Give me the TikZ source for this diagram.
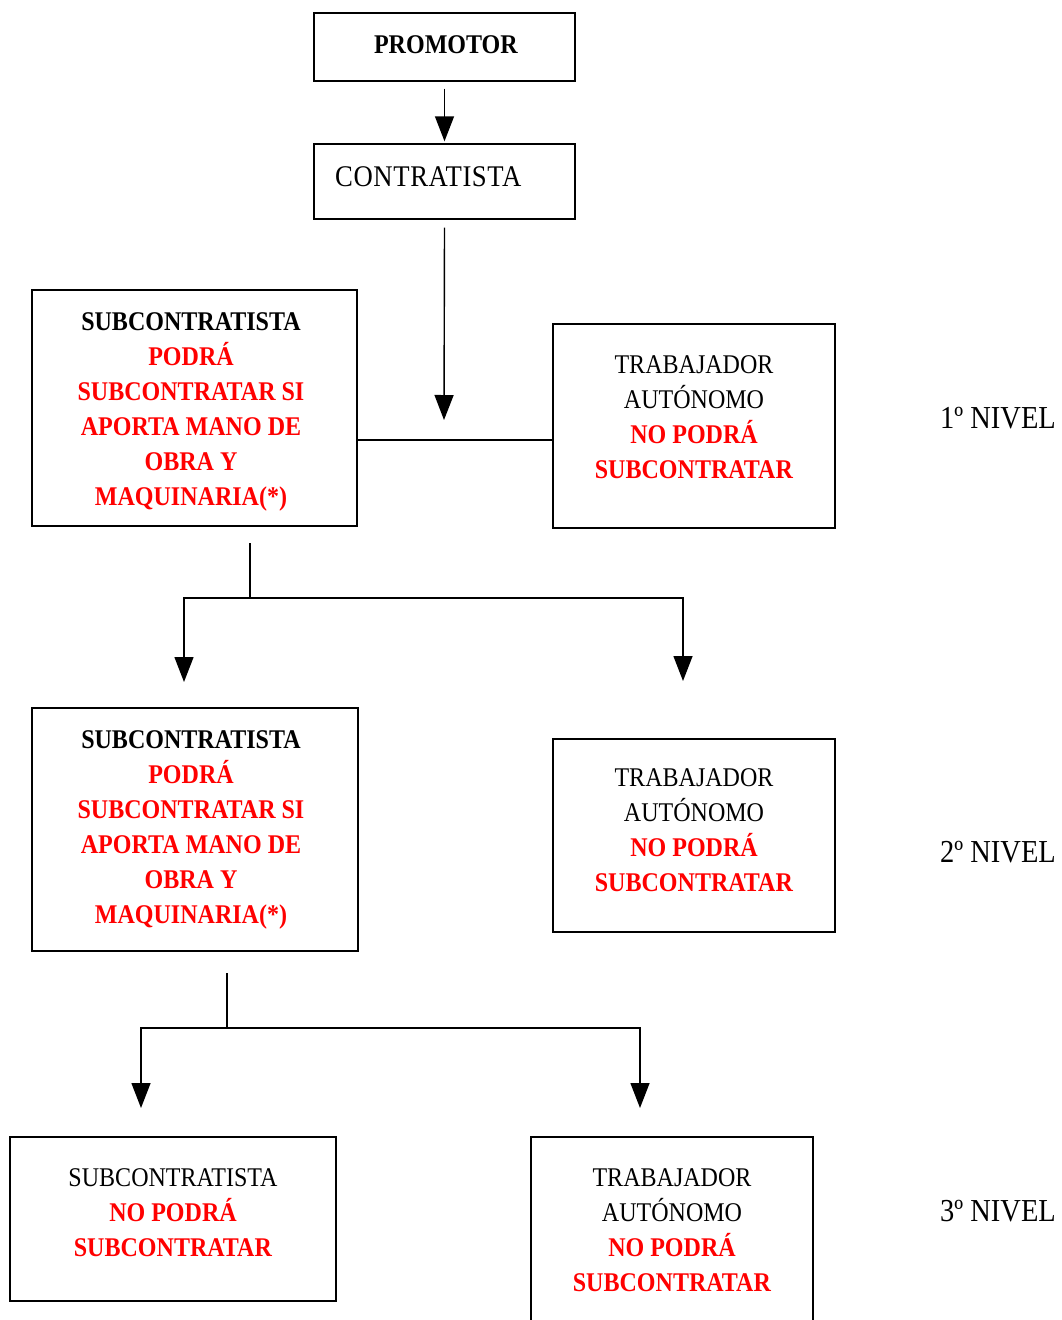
\documentclass[tikz,border=0pt]{standalone}
\usepackage{fontspec}
\setmainfont{Liberation Serif}[FakeStretch=0.89]
\newfontfamily\cfont{Liberation Serif}[FakeStretch=0.89,LetterSpace=2]
\usetikzlibrary{arrows.meta}
\newcommand{\rd}[1]{\textcolor{red}{\textbf{#1}}}
\newcommand{\lines}[1]{\setlength{\tabcolsep}{0pt}\renewcommand{\arraystretch}{1}\begin{tabular}[t]{c}#1\end{tabular}}
\tikzset{
  box/.style={draw, line width=1.4pt, inner sep=0pt},
  txt/.style={anchor=base, inner sep=0pt, font=\fontsize{27}{35}\selectfont},
  lvl/.style={anchor=base west, inner sep=0pt, font=\fontsize{32}{38}\selectfont},
  arr/.style={line width=1.4pt, -{Triangle[width=19pt,length=25pt]}},
  ln/.style={line width=1.4pt}
}
\begin{document}
\begin{tikzpicture}[x=1pt,y=-1pt]
\useasboundingbox (0,0) rectangle (1061,1320);
\clip (0,0) rectangle (1061,1320);
% boxes
\node[box, minimum width=261, minimum height=68] (promotor) at (444.5,47) {};
\node[box, minimum width=261, minimum height=75] (contratista) at (444.5,181.5) {};
\node[box, minimum width=325, minimum height=236] (sub1) at (194.5,408) {};
\node[box, minimum width=282, minimum height=204] (trab1) at (694,426) {};
\node[box, minimum width=326, minimum height=243] (sub2) at (195,829.5) {};
\node[box, minimum width=282, minimum height=193] (trab2) at (694,835.5) {};
\node[box, minimum width=326, minimum height=164] (sub3) at (173,1219) {};
\node[box, minimum width=282, minimum height=203] (trab3) at (672,1238.5) {};
% texts
\node[txt] (tpromotor) at (446,53) {\textbf{PROMOTOR}};
\node[anchor=base west, inner sep=0pt, font=\cfont\fontsize{30}{36}\selectfont] (tcontratista) at (335,186) {CONTRATISTA};
\node[txt] (tsub1) at (191,330) {\lines{\textbf{SUBCONTRATISTA}\\ \rd{PODRÁ}\\ \rd{SUBCONTRATAR SI}\\ \rd{APORTA MANO DE}\\ \rd{OBRA Y}\\ \rd{MAQUINARIA(*)}}};
\node[txt] (ttrab1) at (694,373) {\lines{TRABAJADOR\\ AUTÓNOMO\\ \rd{NO PODRÁ}\\ \rd{SUBCONTRATAR}}};
\node[txt] (tsub2) at (191,748) {\lines{\textbf{SUBCONTRATISTA}\\ \rd{PODRÁ}\\ \rd{SUBCONTRATAR SI}\\ \rd{APORTA MANO DE}\\ \rd{OBRA Y}\\ \rd{MAQUINARIA(*)}}};
\node[txt] (ttrab2) at (694,786) {\lines{TRABAJADOR\\ AUTÓNOMO\\ \rd{NO PODRÁ}\\ \rd{SUBCONTRATAR}}};
\node[txt] (tsub3) at (173,1186) {\lines{SUBCONTRATISTA\\ \rd{NO PODRÁ}\\ \rd{SUBCONTRATAR}}};
\node[txt] (ttrab3) at (672,1186) {\lines{TRABAJADOR\\ AUTÓNOMO\\ \rd{NO PODRÁ}\\ \rd{SUBCONTRATAR}}};
\node[lvl] (n1) at (940,428) {1º NIVEL};
\node[lvl] (n2) at (940,862) {2º NIVEL};
\node[lvl] (n3) at (940,1221) {3º NIVEL};
% connectors
\draw[arr] ([yshift=-7pt]promotor.south) -- ([yshift=2pt]contratista.north);
\coordinate (j1) at (444,440);
\draw[arr] ([yshift=-8pt]contratista.south) -- ([yshift=20pt]j1);
\draw[ln] (sub1.east |- j1) -- (trab1.west |- j1);
% branch level 1 -> 2
\coordinate (b1s) at (250,543);
\coordinate (b1) at (250,598);
\coordinate (b1l) at (184,682);
\coordinate (b1r) at (683,681);
\draw[ln] (b1s) -- (b1);
\draw[arr] (b1) -| (b1l);
\draw[arr] (b1) -| (b1r);
% branch level 2 -> 3
\coordinate (b2s) at (227,973);
\coordinate (b2) at (227,1028);
\coordinate (b2l) at (141,1108);
\coordinate (b2r) at (640,1108);
\draw[ln] (b2s) -- (b2);
\draw[arr] (b2) -| (b2l);
\draw[arr] (b2) -| (b2r);
\end{tikzpicture}
\end{document}
